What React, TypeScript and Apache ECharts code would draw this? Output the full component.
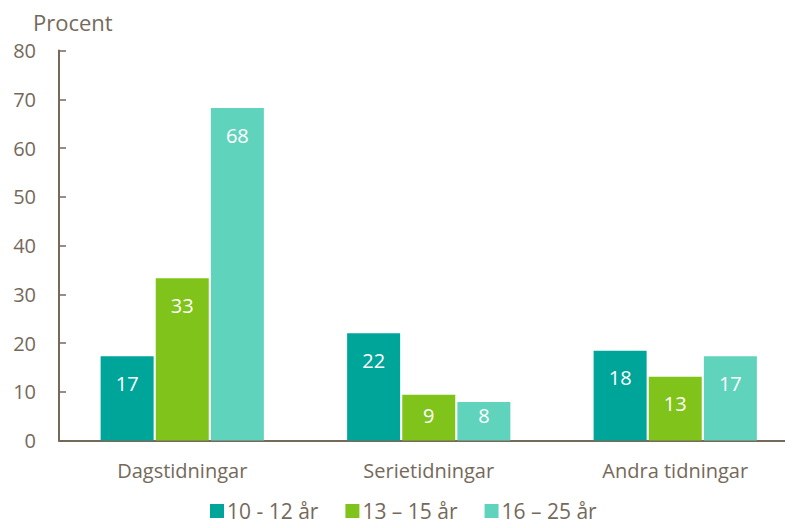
import React, { useEffect, useRef } from "react";
import * as echarts from "echarts";

const categories = ["Dagstidningar", "Serietidningar", "Andra tidningar"];
const seriesNames = ["10 - 12 år", "13 – 15 år", "16 – 25 år"];
const values10_12 = [17.3, 22.0, 18.4];
const values13_15 = [33.3, 9.4, 13.1];
const values16_25 = [68.2, 7.9, 17.3];
const yTicks = [0, 10, 20, 30, 40, 50, 60, 70, 80];
const colors = ["#00A59A", "#80C31A", "#60D3BC"];

const FONT = "'Open Sans', 'Noto Sans', sans-serif";
const TEXT = "#75695B";

export default function App() {
  const ref = useRef<HTMLDivElement>(null);
  useEffect(() => {
    if (!ref.current) return;
    const chart = echarts.init(ref.current, undefined, { renderer: "svg" });
    const all = [values10_12, values13_15, values16_25];
    const makeData = (vals: number[]) =>
      vals.map((v) =>
        v < 12
          ? { value: v, label: { position: "insideBottom", distance: 15 } }
          : { value: v }
      );
    chart.setOption({
      animation: false,
      textStyle: { fontFamily: FONT },
      grid: { left: 59, width: 739.5, top: 50.5, bottom: 87.5, outerBoundsMode: "none", containLabel: false },
      graphic: [
        {
          type: "text",
          left: 33,
          top: 11,
          style: { text: "Procent", fontSize: 22, fill: TEXT, fontFamily: FONT },
        },
      ],
      legend: {
        top: 500,
        left: 210,
        padding: 0,
        itemWidth: 14,
        itemHeight: 14,
        itemGap: 27,
        icon: "rect",
        textStyle: { fontSize: 21, lineHeight: 22, color: TEXT, fontFamily: FONT, padding: [0, 0, 0, -2] },
        data: seriesNames,
      },
      xAxis: {
        type: "category",
        data: categories,
        axisLine: { lineStyle: { color: TEXT, width: 2 } },
        axisTick: { inside: true, length: 7, lineStyle: { color: TEXT, width: 1.5 } },
        axisLabel: { fontSize: 20, color: TEXT, margin: 20, fontFamily: FONT },
      },
      yAxis: {
        type: "value",
        min: yTicks[0],
        max: yTicks[yTicks.length - 1],
        interval: 10,
        axisLine: { show: true, lineStyle: { color: TEXT, width: 2 } },
        axisTick: { show: true, inside: true, length: 7, lineStyle: { color: TEXT, width: 1.5 } },
        splitLine: { show: false },
        axisLabel: { fontSize: 20, color: TEXT, margin: 23, fontFamily: FONT },
      },
      series: all.map((vals, i) => ({
        name: seriesNames[i],
        type: "bar",
        barWidth: 53,
        barGap: "4%",
        itemStyle: { color: colors[i] },
        label: {
          show: true,
          position: "insideTop",
          distance: 17,
          color: "#FFFFFF",
          fontSize: 20,
          fontFamily: FONT,
          formatter: (p: any) => String(Math.round(p.value)),
        },
        data: makeData(vals),
      })),
    });
    return () => chart.dispose();
  }, []);
  return <div ref={ref} style={{ width: 793, height: 528, margin: -8 }} />;
}
